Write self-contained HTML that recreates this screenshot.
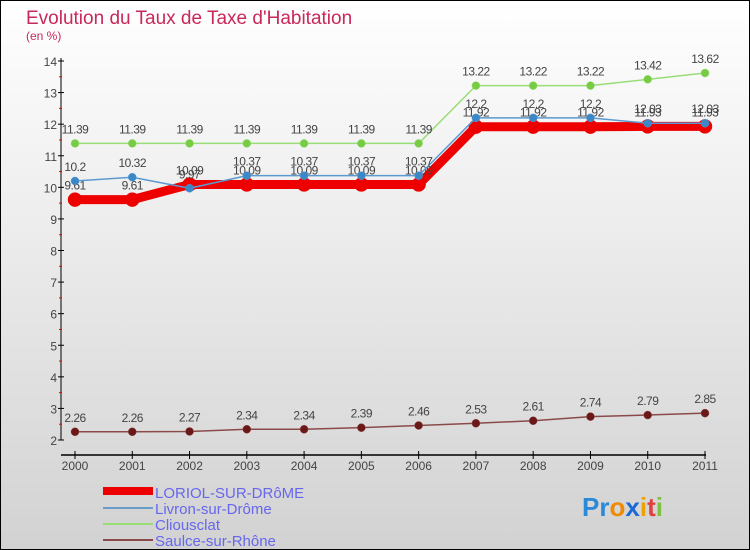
<!DOCTYPE html>
<html><head><meta charset="utf-8"><style>
body{margin:0;width:750px;height:550px;overflow:hidden;font-family:"Liberation Sans",sans-serif}
svg{display:block}
</style></head><body>
<svg id="c" width="750" height="550" xmlns="http://www.w3.org/2000/svg">
<defs><linearGradient id="bg" x1="0" y1="0" x2="0" y2="1"><stop offset="0" stop-color="#ffffff"/><stop offset="1" stop-color="#d2d2d2"/></linearGradient></defs>
<rect x="0.5" y="0.5" width="749" height="549" fill="url(#bg)" stroke="#000"/>
<text x="26" y="24" font-size="19" fill="#c8285a">Evolution du Taux de Taxe d'Habitation</text>
<text x="26" y="40" font-size="12" fill="#c8285a">(en %)</text>
<g id="plot"></g>
<g>
<rect x="103" y="487" width="50" height="8" fill="#ee0000"/>
<text x="155" y="498" font-size="15" fill="#6666ee">LORIOL-SUR-DRôME</text>
<rect x="103" y="507" width="50" height="2" fill="#6b9bc8"/>
<text x="155" y="514" font-size="15" fill="#6666ee">Livron-sur-Drôme</text>
<rect x="103" y="523" width="50" height="2" fill="#99dd77"/>
<text x="155" y="530" font-size="15" fill="#6666ee">Cliousclat</text>
<rect x="103" y="539" width="50" height="2" fill="#8b4a4a"/>
<text x="155" y="546" font-size="15" fill="#6666ee">Saulce-sur-Rhône</text>
</g>
<text x="582" y="516" font-size="26" font-weight="bold"><tspan fill="#2a8ad8">Pr</tspan><tspan fill="#f08a00">o</tspan><tspan fill="#1a6ad8">x</tspan><tspan fill="#f0a000">i</tspan><tspan fill="#e04040">t</tspan><tspan fill="#80c040">i</tspan></text>
</svg>
<script>
const years=[2000,2001,2002,2003,2004,2005,2006,2007,2008,2009,2010,2011];
const loriol=[9.61,9.61,10.09,10.09,10.09,10.09,10.09,11.92,11.92,11.92,11.93,11.93];
const livron=[10.2,10.32,9.97,10.37,10.37,10.37,10.37,12.2,12.2,12.2,12.03,12.03];
const cliousclat=[11.39,11.39,11.39,11.39,11.39,11.39,11.39,13.22,13.22,13.22,13.42,13.62];
const saulce=[2.26,2.26,2.27,2.34,2.34,2.39,2.46,2.53,2.61,2.74,2.79,2.85];
const yTicks=[2,3,4,5,6,7,8,9,10,11,12,13,14];
const NS="http://www.w3.org/2000/svg";
const g=document.getElementById('plot');
const X=i=>75+i*(705-75)/(years.length-1);
const Y=v=>440-(v-2)*(440-61)/12;
function el(t,a){const e=document.createElementNS(NS,t);for(const k in a)e.setAttribute(k,a[k]);g.appendChild(e);return e;}
let e;
e=el('line',{x1:61,y1:58,x2:61,y2:440,stroke:'#000','stroke-width':1});


e=el('line',{x1:61,y1:455,x2:706,y2:455,stroke:'#000','stroke-width':1.5});


yTicks.forEach(v=>{
 e=el('line',{x1:58,y1:Y(v),x2:64,y2:Y(v),stroke:'#000'});
 
 
 if(v<14){e=el('line',{x1:59,y1:Y(v+0.5),x2:62,y2:Y(v+0.5),stroke:'#e00'});
 
 }
 e=el('text',{x:57,y:Y(v)+5,'font-size':12,fill:'#444','text-anchor':'end'});
 e.textContent=v;
 
 
});
years.forEach((yr,i)=>{
 e=el('line',{x1:X(i),y1:451,x2:X(i),y2:459,stroke:'#000'});
 
 
 e=el('text',{x:X(i),y:470,'font-size':12,fill:'#444','text-anchor':'middle'});
 e.textContent=yr;
 
 
});
function series(vals,name,color,w,r,dot){
 e=el('polyline',{points:vals.map((v,i)=>X(i)+','+Y(v)).join(' '),fill:'none',stroke:color,'stroke-width':w,'stroke-linejoin':'round'});
 
 
 vals.forEach((v,i)=>{
  e=el('circle',{cx:X(i),cy:Y(v),r:r,fill:dot,stroke:color,'stroke-width':0.5});
  
  
  e=el('text',{x:X(i),y:Y(v)-10,'font-size':12,fill:'#444','text-anchor':'middle','letter-spacing':'-0.5'});
  e.textContent=String(v);
  
  
 });
}
series(loriol,'loriol','#ee0000',9,7,'#ee0000');
series(livron,'livron','#5a9ad0',1.5,4,'#3a88c8');
series(cliousclat,'cliousclat','#99dd77',1.5,4,'#77cc44');
series(saulce,'saulce','#8b4a4a',1.5,4,'#6a1818');
</script>
</body></html>
